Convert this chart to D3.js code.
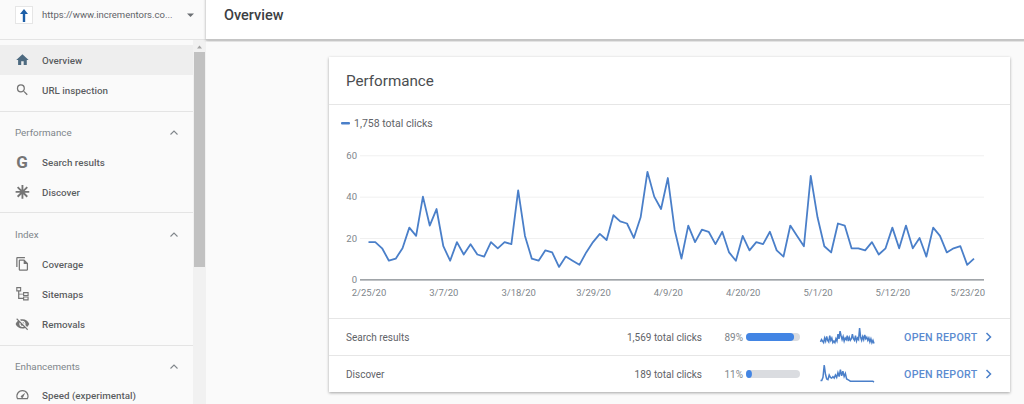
<!DOCTYPE html>
<html>
<head>
<meta charset="utf-8">
<script src="https://cdn.jsdelivr.net/npm/d3@7"></script>
<style>
html, body { margin: 0; padding: 0; background: #fafafa; overflow: hidden; }
svg { display: block; font-family: Roboto, sans-serif; }
</style>
</head>
<body>
<svg id="page" width="1024" height="404"></svg>
<script>
// clicks per day, first day is 2/25/20
const clicks = [18,18,15,9,10,15,25,21,40,26,34,16,9,18,12,17,12,11,18,15,18,17,43,21,10,9,14,13,6,11,
    9,7,13,18,22,19,31,28,27,20,30,52,40,34,49,24,10,26,18,24,23,17,23,13,9,21,14,18,17,23,
    14,11,26,21,16,50,30,16,13,27,26,15,15,14,18,12,15,25,15,26,15,20,11,25,21,13,15,16,7,10];
const tickLabels = ["2/25/20","3/7/20","3/18/20","3/29/20","4/9/20","4/20/20","5/1/20","5/12/20","5/23/20"];
const yTicks = [0,20,40,60];

// the two small charts in the rows, only estimated, they are very small
const sparkSearch = [4,7,5,3,9,5,11,6,4,12,6,9,3,5,3,8,5,14,8,18,12,7,11,5,9,7,12,5,10,6,
    8,14,8,6,12,5,9,7,22,10,6,11,7,13,8,10,6,9,4,8,3,6,2];
const sparkDiscover = [2,2,6,22,10,4,3,9,6,5,7,5,9,6,12,7,16,8,14,7,11,4,3,2,1,1,1,1,1,1,1,1,1,1,1,1,1,1,1,1,1,1,1,0];

const rows = [
    {name: "Search results", total: "1,569 total clicks", pct: 89, spark: sparkSearch},
    {name: "Discover", total: "189 total clicks", pct: 11, spark: sparkDiscover}
];

const navItems = [
    {label: "Overview", y: 60, icon: "home", active: true},
    {label: "URL inspection", y: 90, icon: "search"},
    {label: "Search results", y: 162, icon: "g"},
    {label: "Discover", y: 192, icon: "star"},
    {label: "Coverage", y: 264, icon: "copy"},
    {label: "Sitemaps", y: 294, icon: "tree"},
    {label: "Removals", y: 324, icon: "eye"},
    {label: "Speed (experimental)", y: 395, icon: "speed"}
];
const navHeads = [
    {label: "Performance", y: 132},
    {label: "Index", y: 234},
    {label: "Enhancements", y: 366}
];
const navLines = [111, 212, 345];

const icons = {
    home: "M10 20v-6h4v6h5v-8h3L12 3 2 12h3v8z",
    search: "M15.5 14h-.79l-.28-.27A6.47 6.47 0 0 0 16 9.5 6.5 6.5 0 1 0 9.5 16c1.61 0 3.09-.59 4.23-1.57l.27.28v.79l5 4.99L20.49 19l-4.99-5zm-6 0C7.01 14 5 11.99 5 9.5S7.01 5 9.5 5 14 7.01 14 9.5 11.99 14 9.5 14z",
    star: "M10.500 1h3v7.400l5.200-5.200 2.100 2.100-5.200 5.200H23v3h-7.400l5.200 5.200-2.100 2.100-5.200-5.200V23h-3v-7.400l-5.200 5.200-2.100-2.100 5.200-5.200H1v-3h7.400L3.200 5.300l2.100-2.100 5.200 5.200z",
    copy: "M16 1H4c-1.100 0-2 .9-2 2v14h2V3h12V1zm-1 4 6 6v10c0 1.100-.9 2-2 2H8c-1.100 0-2-.9-2-2V7c0-1.100.9-2 2-2h7zm-1 2H8v14h11V12h-5V7z",
    tree: "M2 1h8v7H7v3.500h6V9h9v6.500h-9V13H7v5h6v-2h9v6.500h-9V20H5V8H2V1zm1.800 1.800v3.400h4.400V2.800H3.800zm11 8v2.900h5.400v-2.900h-5.400zm0 7v2.900h5.400v-2.900h-5.400z",
    eye: "M12 7c2.760 0 5 2.240 5 5 0 .65-.13 1.260-.36 1.830l2.920 2.920c1.510-1.260 2.700-2.890 3.430-4.750-1.730-4.390-6-7.500-11-7.500-1.400 0-2.740.25-3.980.7l2.160 2.160C10.740 7.130 11.350 7 12 7zM2 4.270l2.280 2.280.46.46C3.080 8.300 1.780 10.020 1 12c1.730 4.390 6 7.500 11 7.500 1.550 0 3.030-.3 4.380-.84l.42.42L19.730 22 21 20.730 3.270 3 2 4.270zM7.530 9.800l1.550 1.550c-.05.21-.08.43-.08.65 0 1.660 1.340 3 3 3 .22 0 .44-.03.65-.08l1.550 1.550c-.67.33-1.410.53-2.200.53-2.760 0-5-2.240-5-5 0-.79.2-1.530.53-2.200zm4.310-.78l3.150 3.150.02-.16c0-1.660-1.340-3-3-3l-.17.010z",
    speed: "M12 4a10 10 0 0 0-8.600 15h17.200A10 10 0 0 0 12 4zm-7.400 13A8 8 0 1 1 19.400 17H4.600zM16.500 8.500l-6 4.500a2 2 0 1 0 2.800 2.500z"
};

const svg = d3.select("#page");
const text = (g, x, y, str, size, fill, anchor = "start", weight = 400) => g.append("text")
    .attr("x", x).attr("y", y).attr("dy", "0.35em")
    .attr("text-anchor", anchor).attr("font-size", size).attr("font-weight", weight)
    .attr("fill", fill).text(str);

const defs = svg.append("defs");
const blur = defs.append("filter").attr("id", "shadow")
    .attr("x", "-5%").attr("y", "-5%").attr("width", "110%").attr("height", "110%");
blur.append("feDropShadow").attr("dx", 0).attr("dy", 1).attr("stdDeviation", 1.5)
    .attr("flood-color", "#000").attr("flood-opacity", 0.35);

drawSidebar();
drawHeader();
drawCard();

function drawSidebar() {
    const g = svg.append("g");
    g.append("rect").attr("width", 206).attr("height", 404).attr("fill", "#fafafa");

    // property selector
    g.append("rect").attr("x", 15.500).attr("y", 6.500).attr("width", 17).attr("height", 17)
        .attr("fill", "#fff").attr("stroke", "#e6e6e6");
    g.append("path").attr("d", "M24 9 L28 14 H25.200 V22 H22.800 V14 H20 Z").attr("fill", "#1d5fa8");
    text(g, 42, 15, "https://www.incrementors.co...", 9.500, "#5f6368");
    g.append("path").attr("d", "M187 13.500 h7 l-3.500 3.500 z").attr("fill", "#6b6f73");
    g.append("line").attr("x1", 0).attr("x2", 206).attr("y1", 39.500).attr("y2", 39.500).attr("stroke", "#e4e4e4");

    // selected row
    g.append("rect").attr("y", 45).attr("width", 193).attr("height", 30).attr("fill", "#eeeeee");

    navLines.forEach(y => g.append("line").attr("x1", 0).attr("x2", 193)
        .attr("y1", y + 0.500).attr("y2", y + 0.500).attr("stroke", "#e4e4e4"));

    navHeads.forEach(d => {
        text(g, 15, d.y + 0.500, d.label, 9.800, "#80868b");
        g.append("path").attr("d", `M170.500 ${d.y + 2.500} l3.500 -3.500 l3.500 3.500`)
            .attr("fill", "none").attr("stroke", "#80868b").attr("stroke-width", 1.100);
    });

    navItems.forEach(d => {
        const color = d.active ? "#4d6a80" : "#757575";
        if (d.icon === "g") {
            text(g, 22, d.y + 0.500, "G", 17, color, "middle", 700);
        } else {
            g.append("path").attr("d", icons[d.icon]).attr("fill", color)
                .attr("fill-rule", "evenodd")
                .attr("transform", `translate(15,${d.y - 7.500}) scale(0.62)`);
        }
        text(g, 42, d.y + 0.500, d.label, 9.800, "#3c4043", "start", 500).attr("fill-opacity", 0.85);
    });

    // scrollbar
    g.append("rect").attr("x", 193).attr("y", 40).attr("width", 13).attr("height", 364).attr("fill", "#f1f1f1");
    g.append("rect").attr("x", 194).attr("y", 52).attr("width", 11).attr("height", 215).attr("fill", "#c1c1c1");
    g.append("path").attr("d", "M197 48.500 h5 l-2.500 -3 z").attr("fill", "#a3a3a3");
}

function drawHeader() {
    const g = svg.append("g");
    g.append("rect").attr("x", 206).attr("y", -4).attr("width", 822).attr("height", 43.500)
        .attr("fill", "#fff").attr("filter", "url(#shadow)");
    g.append("line").attr("x1", 206).attr("x2", 1024).attr("y1", 39.800).attr("y2", 39.800).attr("stroke", "#b4b4b4");
    text(g, 224, 15, "Overview", 14.500, "#3c4043", "start", 500);
}

function drawCard() {
    const g = svg.append("g");
    g.append("rect").attr("x", 329).attr("y", 57).attr("width", 681).attr("height", 335)
        .attr("fill", "#fff").attr("filter", "url(#shadow)");
    text(g, 346, 81, "Performance", 15.200, "#4a4d50");
    g.append("line").attr("x1", 329).attr("x2", 1010).attr("y1", 104.500).attr("y2", 104.500).attr("stroke", "#e6e6e6");

    // legend
    g.append("rect").attr("x", 341).attr("y", 122).attr("width", 9).attr("height", 2.500).attr("rx", 1).attr("fill", "#4a7fc9");
    text(g, 354, 123.500, "1,758 total clicks", 10.500, "#5f6368");

    const x = d3.scaleLinear().domain([0, clicks.length - 1]).range([368.500, 974]);
    const y = d3.scaleLinear().domain([0, 60]).range([279.300, 155.300]);
    const tickDays = tickLabels.map((d, i) => i * 11);

    const yAxis = d3.axisLeft(y).tickValues(yTicks).tickSize(-(984 - 360)).tickPadding(4);
    const yG = g.append("g").attr("transform", "translate(360,0)").call(yAxis);
    yG.select(".domain").remove();
    yG.selectAll(".tick line").attr("stroke", "#f0f0f0");
    yG.selectAll(".tick text").attr("fill", "#80868b").attr("font-size", 9.500)
        .attr("font-family", "Roboto, sans-serif").attr("x", -3);
    yG.selectAll(".tick").filter(d => d === 0).select("line").attr("stroke", "#80868b").attr("stroke-width", 1.200);

    const xAxis = d3.axisBottom(x).tickValues(tickDays).tickSize(0).tickPadding(10)
        .tickFormat((d, i) => tickLabels[i]);
    const xG = g.append("g").attr("transform", "translate(0,279.300)").call(xAxis);
    xG.select(".domain").remove();
    xG.selectAll(".tick text").attr("fill", "#80868b").attr("font-size", 9.500)
        .attr("font-family", "Roboto, sans-serif");

    const line = d3.line().x((d, i) => x(i)).y(d => y(d));
    g.append("path").datum(clicks).attr("d", line)
        .attr("fill", "none").attr("stroke", "#4a7fc9").attr("stroke-width", 1.800)
        .attr("stroke-linejoin", "round");

    // rows under the chart
    const pctScale = d3.scaleLinear().domain([0, 100]).range([0, 54]);
    rows.forEach((d, i) => {
        const top = 319 + i * 37;
        const mid = top + 18;
        g.append("line").attr("x1", 329).attr("x2", 1010).attr("y1", top - 0.500).attr("y2", top - 0.500).attr("stroke", "#e6e6e6");
        text(g, 346, mid, d.name, 10, "#5f6368");
        text(g, 702, mid, d.total, 10, "#5f6368", "end");
        text(g, 743, mid, d.pct + "%", 10, "#80868b", "end");
        g.append("rect").attr("x", 746).attr("y", mid - 4).attr("width", 54).attr("height", 8).attr("rx", 4).attr("fill", "#dadce0");
        g.append("rect").attr("x", 746).attr("y", mid - 4).attr("width", pctScale(d.pct)).attr("height", 8).attr("rx", 4).attr("fill", "#4285e4");

        const sx = d3.scaleLinear().domain([0, d.spark.length - 1]).range([820.500, 874]);
        const sy = d3.scaleLinear().domain([0, 22]).range([mid + 8, mid - 9]);
        g.append("path").datum(d.spark)
            .attr("d", d3.line().x((v, j) => sx(j)).y(v => sy(v)))
            .attr("fill", "none").attr("stroke", "#4a7fc9").attr("stroke-width", 1.500);

        text(g, 904, mid, "OPEN REPORT", 10.700, "#5b8bd0", "start", 500).attr("letter-spacing", 0.300);
        g.append("path").attr("d", `M986.500 ${mid - 4} l4 4 l-4 4`)
            .attr("fill", "none").attr("stroke", "#4a7fc9").attr("stroke-width", 1.500);
    });
}
</script>
</body>
</html>
